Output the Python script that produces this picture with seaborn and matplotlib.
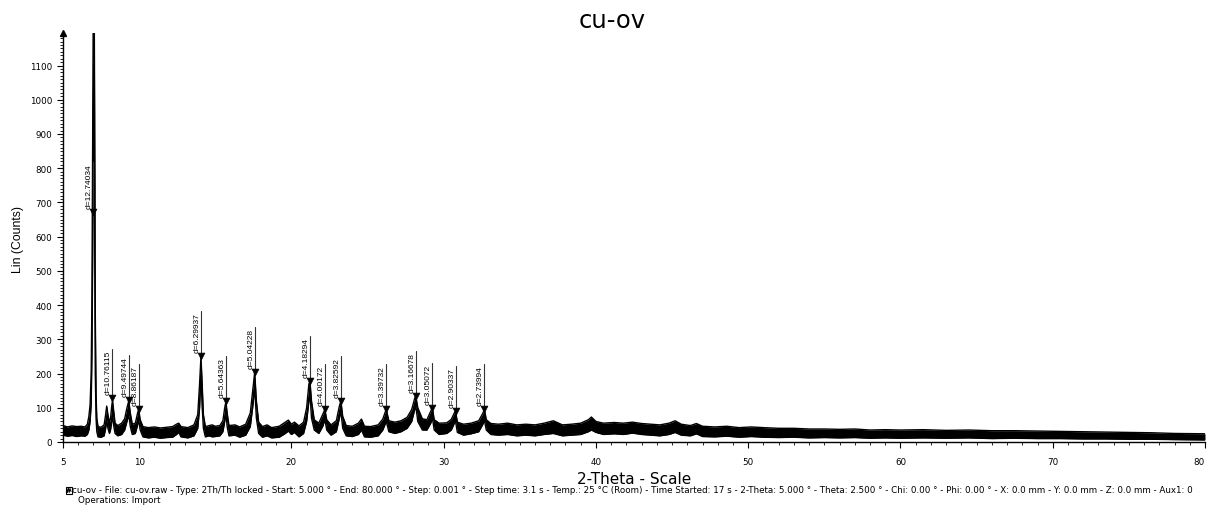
import matplotlib
matplotlib.use('Agg')
import matplotlib.pyplot as plt
from matplotlib.ticker import MultipleLocator, FixedLocator
from matplotlib.patches import Rectangle
from matplotlib.lines import Line2D
import seaborn as sns
import pandas as pd

# 2-theta positions and the lower / upper edge of the noisy trace (counts)
tth = [5.0, 5.3, 5.6, 5.9, 6.2, 6.45, 6.6, 6.7, 6.78, 6.85, 6.9, 6.95, 7.0, 7.04, 7.08, 7.12, 7.17, 7.22,
       7.3, 7.5, 7.7, 7.8, 7.87, 7.95, 8.05, 8.12, 8.2, 8.25, 8.32, 8.42, 8.6, 8.85, 9.05, 9.2, 9.32, 9.42,
       9.55, 9.75, 9.9, 9.97, 10.07, 10.25, 10.6, 11.0, 11.4, 11.8, 12.2, 12.45, 12.6, 12.75, 13.2, 13.6,
       13.85, 13.97, 14.06, 14.13, 14.22, 14.35, 14.6, 14.8, 15.0, 15.3, 15.5, 15.62, 15.7, 15.78, 15.9,
       16.3, 16.6, 17.0, 17.3, 17.48, 17.59, 17.7, 17.85, 18.1, 18.4, 18.7, 19.2, 19.6, 19.8, 20.0, 20.2,
       20.5, 20.8, 21.0, 21.15, 21.22, 21.32, 21.5, 21.8, 22.05, 22.2, 22.32, 22.6, 22.95, 23.15, 23.25,
       23.37, 23.6, 24.0, 24.4, 24.6, 24.8, 25.2, 25.7, 26.0, 26.23, 26.4, 26.8, 27.2, 27.6, 27.9, 28.1,
       28.17, 28.3, 28.6, 28.9, 29.15, 29.26, 29.38, 29.7, 30.2, 30.5, 30.7, 30.78, 30.9, 31.3, 31.8, 32.3,
       32.55, 32.68, 32.8, 33.1, 33.6, 34.2, 34.8, 35.4, 36.0, 36.6, 37.2, 37.8, 38.4, 39.0, 39.5, 39.7,
       40.0, 40.5, 41.2, 41.8, 42.4, 43.0, 43.6, 44.2, 44.8, 45.2, 45.6, 46.2, 46.6, 47.0, 47.8, 48.6,
       49.4, 50.2, 51.0, 52.0, 53.0, 54.0, 55.0, 56.0, 57.0, 58.0, 59.0, 60.0, 61.5, 63.0, 64.5, 66.0,
       67.5, 69.0, 70.5, 72.0, 73.5, 75.0, 76.5, 78.0, 80.0]
lo = [20, 17, 19, 16, 18, 17, 22, 35, 60, 110, 250, 550, 1000, 1100, 600, 200, 70, 30,
      15, 14, 18, 40, 65, 40, 25, 35, 60, 80, 50, 25, 18, 22, 35, 60, 80, 45,
      22, 25, 50, 65, 35, 15, 12, 14, 11, 13, 14, 22, 28, 15, 12, 18,
      40, 100, 200, 110, 40, 15, 18, 15, 16, 18, 30, 60, 85, 45, 18,
      20, 14, 20, 45, 110, 160, 70, 25, 14, 18, 12, 14, 25, 32, 22, 28,
      15, 25, 60, 120, 140, 70, 35, 25, 45, 65, 35, 20, 30, 70, 90,
      40, 18, 16, 22, 35, 15, 14, 18, 35, 60, 30, 25, 30, 40, 60, 95,
      105, 60, 35, 35, 55, 70, 35, 22, 25, 35, 55, 60, 28, 20, 24, 30,
      50, 62, 35, 22, 20, 22, 18, 20, 18, 22, 25, 18, 20, 22, 30, 35,
      28, 22, 24, 22, 26, 22, 20, 18, 22, 28, 20, 18, 24, 16, 15, 17,
      14, 16, 14, 13, 14, 12, 13, 12, 13, 11, 12, 11, 12, 11, 12, 10,
      11, 10, 10, 9, 9, 8, 8, 7, 6]
hi = [48, 44, 47, 45, 46, 44, 52, 75, 110, 200, 420, 900, 1400, 1400, 950, 380, 140, 70,
      45, 43, 50, 80, 105, 80, 58, 68, 105, 122, 95, 55, 48, 55, 68, 100, 120, 85,
      52, 55, 85, 95, 65, 45, 42, 44, 41, 43, 45, 52, 55, 45, 42, 50,
      80, 170, 250, 180, 80, 45, 48, 50, 46, 48, 62, 100, 118, 85, 48,
      50, 44, 52, 85, 160, 204, 120, 58, 45, 50, 42, 46, 58, 64, 52, 58,
      47, 58, 100, 170, 177, 120, 65, 55, 80, 95, 65, 50, 62, 105, 120,
      75, 48, 46, 55, 67, 46, 45, 50, 67, 96, 62, 58, 62, 72, 95, 128,
      134, 100, 68, 65, 90, 99, 65, 55, 56, 66, 85, 90, 58, 52, 55, 62,
      82, 95, 65, 54, 52, 55, 50, 52, 50, 55, 62, 50, 52, 55, 65, 73,
      60, 55, 57, 55, 58, 54, 52, 50, 55, 62, 52, 48, 54, 46, 44, 46,
      42, 44, 42, 40, 40, 38, 38, 37, 38, 35, 36, 35, 36, 34, 35, 33,
      33, 32, 31, 30, 29, 28, 27, 25, 24]

# peak markers: position, marker height and d-spacing label
peak_pos = [7.0, 8.25, 9.32, 9.97, 14.06, 15.7, 17.59, 21.22, 22.2, 23.25, 26.23, 28.17, 29.26, 30.78, 32.68]
peak_h = [672, 128, 122, 96, 251, 119, 204, 177, 95, 120, 96, 134, 99, 90, 97]
peak_lbl = ['d=12.74034', 'd=10.76115', 'd=9.49744', 'd=8.86187', 'd=6.29937', 'd=5.64363', 'd=5.04228',
            'd=4.18294', 'd=4.00172', 'd=3.82592', 'd=3.39732', 'd=3.16678', 'd=3.05072', 'd=2.90337',
            'd=2.73994']

sns.set_style('ticks')
plt.rcParams['font.family'] = ['DejaVu Sans']
plt.rcParams['text.color'] = 'black'
plt.rcParams['xtick.color'] = 'black'
plt.rcParams['ytick.color'] = 'black'
plt.rcParams['axes.labelcolor'] = 'black'
narrow = ['Liberation Sans Narrow', 'Liberation Sans']

W, H = 1208, 506
fig = plt.figure(figsize=(W / 100, H / 100), dpi=100)
ax = fig.add_axes([63 / W, 1 - 443 / H, (1205 - 63) / W, (443 - 34) / H])

df = pd.DataFrame({'tth': tth, 'lo': lo, 'hi': hi})
ax.fill_between(df['tth'], df['lo'], df['hi'], color='black', lw=0)
sns.lineplot(data=df, x='tth', y='hi', color='black', lw=1.0, ax=ax)
sns.lineplot(data=df, x='tth', y='lo', color='black', lw=1.0, ax=ax)

ax.set_xlim(5, 80)
ax.set_ylim(0, 1195)

# d-spacing markers with rotated labels
pk = pd.DataFrame({'x': peak_pos, 'y': peak_h})
sns.scatterplot(data=pk, x='x', y='y', marker='v', s=24, color='black', edgecolor='black',
                linewidth=0.5, zorder=5, ax=ax)
labels = []
for x, y, s in zip(peak_pos, peak_h, peak_lbl):
    t = ax.annotate(s, xy=(x, y), xytext=(-0.3, 3), textcoords='offset points', rotation=90,
                    ha='right', va='bottom', fontsize=6.0, color='black', family=narrow)
    labels.append(t)

fig.canvas.draw()
rend = fig.canvas.get_renderer()
inv = ax.transData.inverted()
for t, x, y in zip(labels, peak_pos, peak_h):
    bb = t.get_window_extent(rend)
    top = inv.transform((0, bb.y1 + 1))[1]
    ax.plot([x, x], [y, top], color='#333333', lw=0.8, zorder=4)

ax.xaxis.set_major_locator(FixedLocator([5, 10, 20, 30, 40, 50, 60, 70, 80]))
ax.xaxis.set_minor_locator(MultipleLocator(1))
ax.yaxis.set_major_locator(MultipleLocator(100))
ax.yaxis.set_minor_locator(MultipleLocator(10))
ax.tick_params(axis='both', which='major', labelsize=6.3, width=0.8, color='black', labelcolor='black')
ax.tick_params(axis='x', which='major', length=4.5, pad=6)
ax.tick_params(axis='y', which='major', length=4.3, pad=3.5)
ax.tick_params(axis='both', which='minor', length=2.2, width=0.6, color='black')
# last tick label sits at the right edge of the figure
ax.get_xticklabels()[-1].set_horizontalalignment('right')
for side in ['top', 'right']:
    ax.spines[side].set_visible(False)
for side in ['left', 'bottom']:
    ax.spines[side].set_linewidth(1.0)
    ax.spines[side].set_color('black')
ax.plot([0], [1], marker='^', ms=4, color='black', transform=ax.transAxes, clip_on=False)

ax.set_xlabel('')
ax.set_ylabel('')
fig.text(18 / W, 1 - 240 / H, 'Lin (Counts)', rotation=90, ha='center', va='center', fontsize=8.8,
         family=['Liberation Sans'])
fig.text(634 / W, 1 - 480 / H, '2-Theta - Scale', ha='center', va='center', fontsize=11)
fig.text(612 / W, 1 - 21 / H, 'cu-ov', ha='center', va='center', fontsize=17.5)

footer = ('cu-ov - File: cu-ov.raw - Type: 2Th/Th locked - Start: 5.000 \u00b0 - End: 80.000 \u00b0 - '
          'Step: 0.001 \u00b0 - Step time: 3.1 s - Temp.: 25 \u00b0C (Room) - Time Started: 17 s - '
          '2-Theta: 5.000 \u00b0 - Theta: 2.500 \u00b0 - Chi: 0.00 \u00b0 - Phi: 0.00 \u00b0 - '
          'X: 0.0 mm - Y: 0.0 mm - Z: 0.0 mm - Aux1: 0')
fig.text(72.5 / W, 1 - 490.5 / H, footer, ha='left', va='center', fontsize=6.3)
fig.text(78 / W, 1 - 500.5 / H, 'Operations: Import', ha='left', va='center', fontsize=6.3)

# little scan icon in front of the footer
fig.add_artist(Rectangle((65.5 / W, 1 - 494.5 / H), 6.5 / W, 7 / H, transform=fig.transFigure,
                         fill=False, lw=0.8, edgecolor='black'))
fig.add_artist(Line2D([66.5 / W, 67.5 / W, 68.3 / W, 69.2 / W, 70 / W, 71 / W],
                      [1 - 489.5 / H, 1 - 493.5 / H, 1 - 488.5 / H, 1 - 493.5 / H, 1 - 489.5 / H, 1 - 492.5 / H],
                      transform=fig.transFigure, lw=0.7, color='black'))

fig.savefig('out.png', dpi=100)
